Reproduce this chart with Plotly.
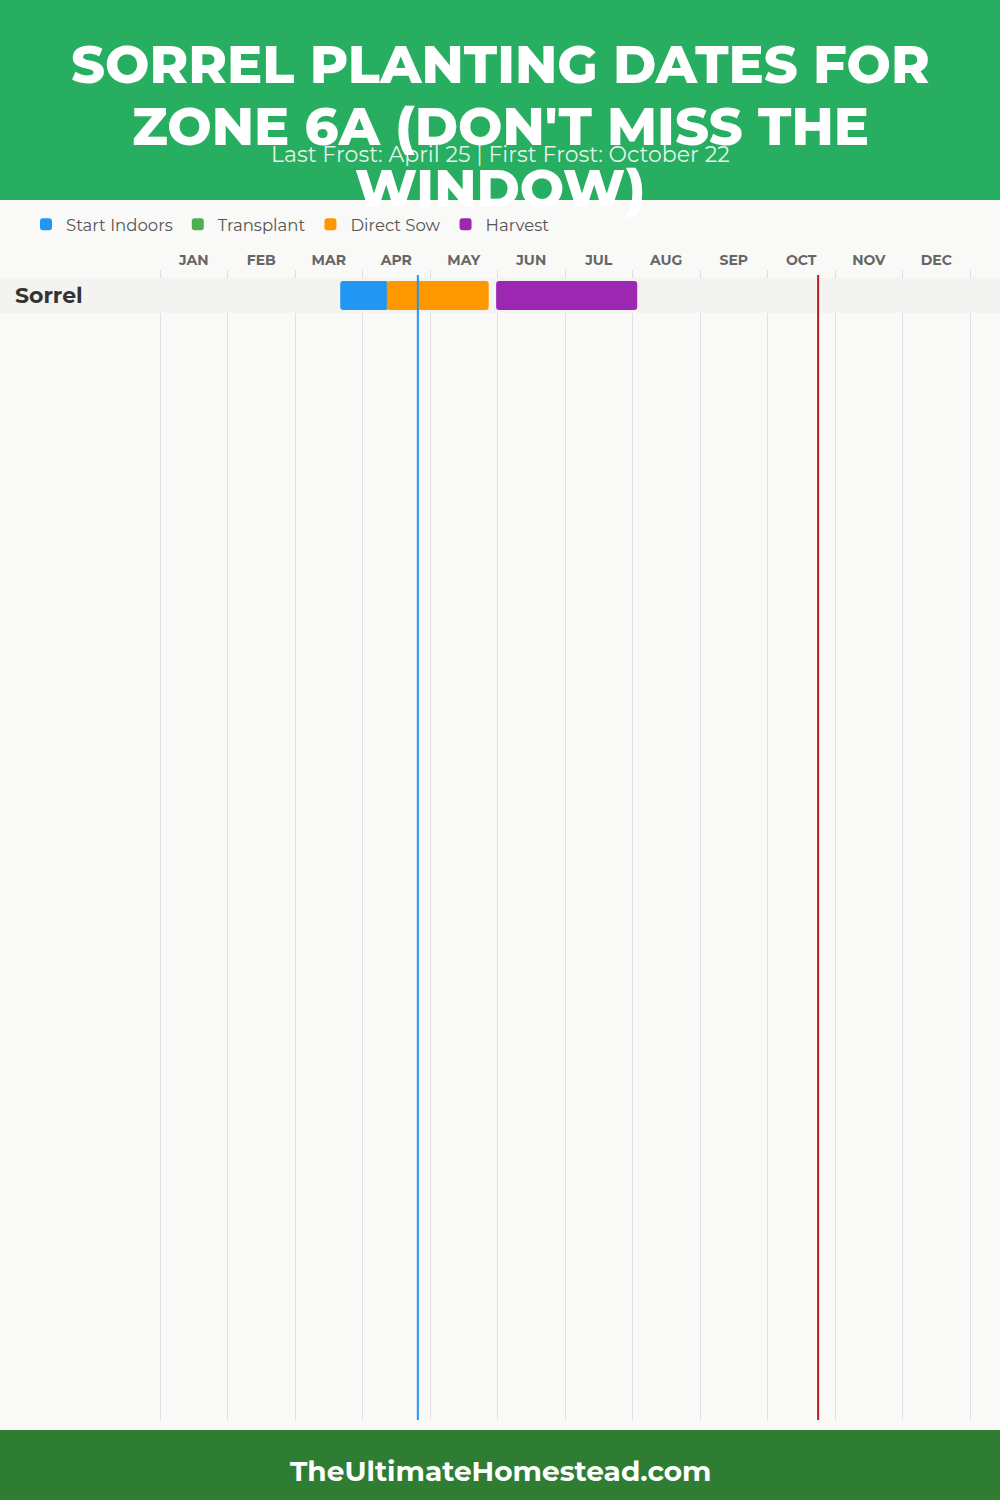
import plotly.graph_objects as go

# ---------------- data ----------------
crops = ["Sorrel"]
months = ["JAN", "FEB", "MAR", "APR", "MAY", "JUN", "JUL", "AUG", "SEP", "OCT", "NOV", "DEC"]
stages = ["Start Indoors", "Transplant", "Direct Sow", "Harvest"]
# positions in fractional months (0 = Jan 1, 12 = Dec 31)
stage_start = {"Start Indoors": [2.67], "Transplant": [None], "Direct Sow": [3.36], "Harvest": [4.98]}
stage_end = {"Start Indoors": [3.38], "Transplant": [None], "Direct Sow": [4.87], "Harvest": [7.07]}
last_frost = 3.82
first_frost = 9.75
title_lines = ["SORREL PLANTING DATES FOR", "ZONE 6A (DON'T MISS THE", "WINDOW)"]
subtitle = "Last Frost: April 25 | First Frost: October 22"
footer = "TheUltimateHomestead.com"

# ---------------- style ----------------
W, H = 1000, 1500
colors = {"Start Indoors": "#2196f3", "Transplant": "#4caf50", "Direct Sow": "#ff9800", "Harvest": "#9c27b0"}
BG = "#f9f9f8"
FONT = "Montserrat, Inter, Open Sans, sans-serif"

def py(p):  # pixel y -> paper y
    return 1 - p / H

# x axis spans the full width; months 0..12 map to pixels 160..970
px_per_month = 810 / 12
x_lo = -160 / px_per_month
x_hi = (W - 160) / px_per_month
# y axis: row 0 centred at pixel 295.5, 35 px per row, plot area 270..1420
row_px = 35
y_top = -(295.5 - 270) / row_px
y_bot = (1420 - 295.5) / row_px

fig = go.Figure()
for s in stages:
    base = list(stage_start[s])
    length = [(b - a) if (a is not None and b is not None) else None
              for a, b in zip(stage_start[s], stage_end[s])]
    fig.add_trace(go.Bar(
        y=crops, x=length, base=base, orientation="h", name=s,
        marker=dict(color=colors[s], line=dict(width=0), cornerradius=3),
        width=29 / row_px, hoverinfo="skip", xaxis="x", yaxis="y",
    ))

shapes = [
    dict(type="rect", xref="paper", yref="paper", x0=0, x1=1, y0=py(200), y1=1,
         fillcolor="#27ae60", line=dict(width=0), layer="below"),
    dict(type="rect", xref="paper", yref="paper", x0=0, x1=1, y0=0, y1=py(1430),
         fillcolor="#2e7d32", line=dict(width=0), layer="below"),
    dict(type="rect", xref="x", yref="y", x0=x_lo, x1=x_hi, y0=-0.5, y1=0.5,
         fillcolor="#f3f3f2", line=dict(width=0), layer="between"),
    dict(type="line", xref="x", yref="paper", x0=last_frost, x1=last_frost,
         y0=py(1420), y1=py(275), line=dict(color="#2196f3", width=2), layer="above"),
    dict(type="line", xref="x", yref="paper", x0=first_frost, x1=first_frost,
         y0=py(1420), y1=py(275), line=dict(color="#b71c1c", width=2), layer="above"),
]

annotations = []
for i, t in enumerate(title_lines):
    annotations.append(dict(text=t, xref="paper", yref="paper", x=0.5, y=py(64 + 62 * i),
                            xanchor="center", yanchor="middle", showarrow=False,
                            font=dict(family=FONT, size=52.5, color="white", weight=800)))
annotations.append(dict(text=subtitle, xref="paper", yref="paper", x=0.5, y=py(154),
                        xanchor="center", yanchor="middle", showarrow=False,
                        font=dict(family=FONT, size=22, color="rgba(255,255,255,0.88)")))
annotations.append(dict(text=footer, xref="paper", yref="paper", x=0.5, y=py(1471),
                        xanchor="center", yanchor="middle", showarrow=False,
                        font=dict(family=FONT, size=28, color="white", weight=700)))

fig.update_layout(
    width=W, height=H, margin=dict(l=0, r=0, t=0, b=0),
    paper_bgcolor=BG, plot_bgcolor=BG, barmode="overlay",
    font=dict(family=FONT),
    shapes=shapes, annotations=annotations,
    showlegend=True,
    legend=dict(orientation="h", x=0.026, y=py(207), xanchor="left", yanchor="top",
                font=dict(family=FONT, size=16.5, color="#555555"),
                bgcolor="rgba(0,0,0,0)", traceorder="normal", itemclick=False),
    xaxis=dict(domain=[0, 1], range=[x_lo, x_hi], tickmode="array",
               tickvals=list(range(13)), showticklabels=False, showgrid=True,
               gridcolor="#e0e0e0", gridwidth=1, zeroline=False, showline=False, ticks=""),
    xaxis2=dict(overlaying="x", matches="x", side="top", tickmode="array",
                tickvals=[i + 0.5 for i in range(12)], ticktext=months,
                showgrid=False, zeroline=False, showline=False, ticks="",
                ticklabelstandoff=1,
                tickfont=dict(family=FONT, size=14, color="#666666", weight=700)),
    yaxis=dict(domain=[py(1420), py(270)], type="category", range=[y_bot, y_top],
               showgrid=False, zeroline=False, showline=False, ticks="",
               ticklabelposition="inside", ticklabelstandoff=12,
               tickfont=dict(family=FONT, size=22, color="#333333", weight=700)),
)
fig.add_trace(go.Scatter(x=[None], y=[None], xaxis="x2", yaxis="y", showlegend=False, hoverinfo="skip"))

fig.write_html("out.html", config={"displayModeBar": False},
               post_script="document.body.style.margin='0';")
